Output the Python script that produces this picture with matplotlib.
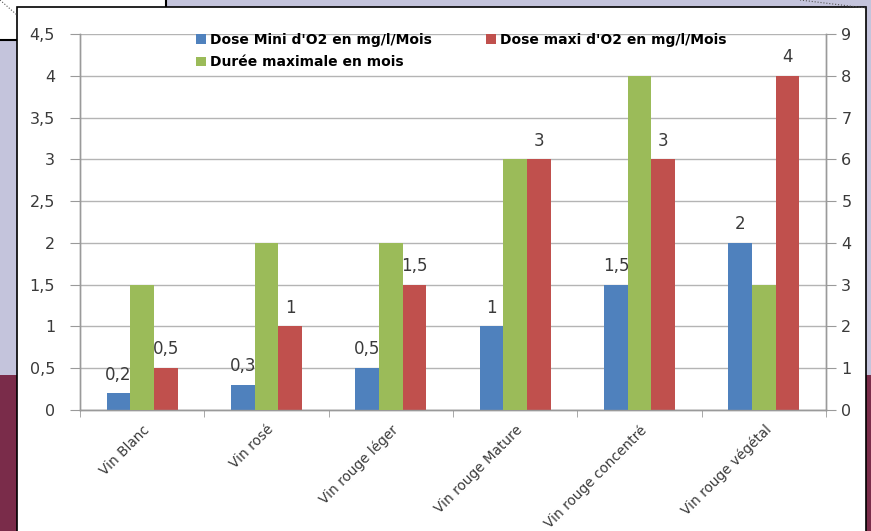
import numpy as np
import matplotlib.pyplot as plt
import matplotlib.transforms as mtransforms
from matplotlib.patches import Rectangle
from matplotlib.lines import Line2D

plt.rcParams['font.family'] = ['DejaVu Sans']

categories = ["Vin Blanc", "Vin rosé", "Vin rouge léger", "Vin rouge Mature",
              "Vin rouge concentré", "Vin rouge végétal"]
dose_mini = [0.2, 0.3, 0.5, 1, 1.5, 2]
dose_maxi = [0.5, 1, 1.5, 3, 3, 4]
duree_mois = [3, 4, 4, 6, 8, 3]

blue = '#4f81bd'
red = '#c0504d'
green = '#9bbb59'
grid_col = '#b4b4b4'
axis_col = '#9a9a9a'
txt_col = '#3a3a3a'


def fr(v):
    # French decimal comma
    s = ('%g' % v)
    return s.replace('.', ',')


fig = plt.figure(figsize=(8.71, 5.31), dpi=100)
W, H = 871, 531

# slide background around the chart
def px_rect(x0, y0, x1, y1, **kw):
    fig.patches.append(Rectangle((x0 / W, 1 - y1 / H), (x1 - x0) / W, (y1 - y0) / H,
                                 transform=fig.transFigure, figure=fig, zorder=-5, **kw))

px_rect(0, 0, W, 375, facecolor='#c4c4dc', edgecolor='none')
px_rect(0, 375, W, H, facecolor='#7a2c4a', edgecolor='none')
px_rect(-2, -2, 166, 40, facecolor='white', edgecolor='black', linewidth=1.5)
px_rect(17, 7, 866, H + 5, facecolor='white', edgecolor='black', linewidth=1.2)
fig.lines.append(Line2D([0, 17 / W], [1, 1 - 15 / H], transform=fig.transFigure,
                        color='#555555', linestyle=':', linewidth=0.8, zorder=-4))
fig.lines.append(Line2D([800 / W, 866 / W], [1, 1 - 8 / H], transform=fig.transFigure,
                        color='#555555', linestyle=':', linewidth=0.8, zorder=-4))

ax = fig.add_axes([80 / W, 1 - 410 / H, (826 - 80) / W, (410 - 34) / H])
ax2 = ax.twinx()
ax.patch.set_alpha(0)
ax2.patch.set_alpha(0)

x = np.arange(len(categories))
w = 0.19

b1 = ax.bar(x - w, dose_mini, w, color=blue, zorder=3)
b3 = ax.bar(x + w, dose_maxi, w, color=red, zorder=3)
b2 = ax2.bar(x, duree_mois, w, color=green, zorder=3)

for bars, vals in ((b1, dose_mini), (b3, dose_maxi)):
    for rect, v in zip(bars, vals):
        ax2.annotate(fr(v), (rect.get_x() + rect.get_width() / 2, v * 2),
                     xytext=(0, 7), textcoords='offset points',
                     ha='center', va='bottom', fontsize=12, color=txt_col, zorder=5)

ax.set_ylim(0, 4.5)
ax2.set_ylim(0, 9)
ax.set_xlim(-0.5, len(categories) - 0.5)

yt = np.arange(0, 4.51, 0.5)
ax.set_yticks(yt)
ax.set_yticklabels([fr(v) for v in yt])
ax2.set_yticks(np.arange(0, 10))
ax.yaxis.grid(True, color=grid_col, linewidth=1, zorder=0)
ax.set_axisbelow(True)

ax.set_xticks(x)
ax.set_xticklabels(categories, rotation=45, ha='right', rotation_mode='anchor', fontsize=9.8,
                   color=txt_col)
shift = mtransforms.ScaledTranslation(0, 0, fig.dpi_scale_trans)
for lbl in ax.get_xticklabels():
    lbl.set_transform(lbl.get_transform() + shift)
ax.set_xticks(np.arange(-0.5, len(categories)), minor=True)
ax.tick_params(axis='x', which='major', length=0, pad=9)
ax.tick_params(axis='x', which='minor', length=5, color=axis_col, direction='out')
ax.tick_params(axis='y', length=7, color=axis_col, labelsize=11.5, labelcolor=txt_col, pad=11)
ax2.tick_params(axis='y', length=7, color=axis_col, labelsize=11.5, labelcolor=txt_col, pad=4)

for a in (ax, ax2):
    a.spines['top'].set_visible(False)
    for s in ('left', 'right', 'bottom'):
        a.spines[s].set_color(axis_col)
        a.spines[s].set_linewidth(1)

# column-first fill: col 1 = mini, durée ; col 2 = maxi
handles = [b1, b2, b3]
labels = ["Dose Mini d'O2 en mg/l/Mois", "Durée maximale en mois", "Dose maxi d'O2 en mg/l/Mois"]
fig.legend(handles, labels, loc='upper left', bbox_to_anchor=(196 / W, 1 - 33 / H), ncol=2,
           frameon=False, prop={'size': 10, 'weight': 'bold'}, handlelength=0.7,
           handleheight=0.7, handletextpad=0.3, columnspacing=3.9, labelspacing=0.6,
           borderaxespad=0, borderpad=0)

fig.savefig('out.png', dpi=100)
